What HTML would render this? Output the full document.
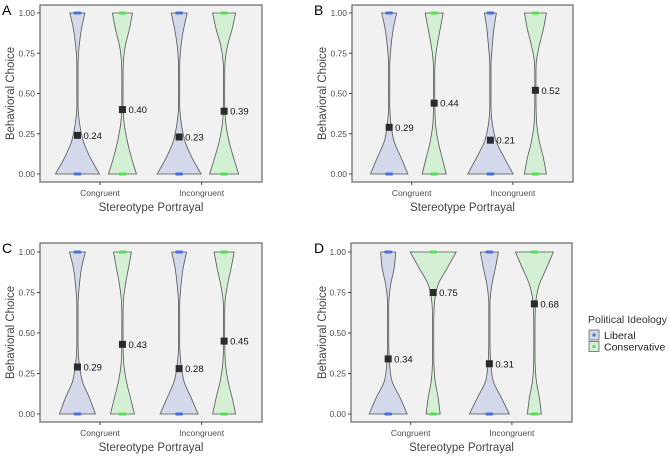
<!DOCTYPE html>
<html><head><meta charset="utf-8"><style>
body{margin:0;background:#fff;}
svg{display:block;font-family:"Liberation Sans",sans-serif;}
</style></head><body>
<svg id="chart" width="668" height="456" viewBox="0 0 668 456" xmlns="http://www.w3.org/2000/svg"></svg>
<script>
// ---- data ----
const categories = ["Congruent", "Incongruent"];
const groups = ["Liberal", "Conservative"];
const panelLetters = ["A", "B", "C", "D"];
const yTickValues = [0, 0.25, 0.5, 0.75, 1];
const yTickLabels = ["0.00", "0.25", "0.50", "0.75", "1.00"];
// means per panel: [lib-cong, cons-cong, lib-incong, cons-incong]
const meansA = [0.24, 0.40, 0.23, 0.39];
const meansB = [0.29, 0.44, 0.21, 0.52];
const meansC = [0.29, 0.43, 0.28, 0.45];
const meansD = [0.34, 0.75, 0.31, 0.68];
// density profiles at y = 0,0.1,...,1.0
const densA = [
  [22,13,6,2.5,0.7,0.6,0.6,0.7,1.8,4,7.5],
  [14,9,5,2,0.7,0.6,0.6,1,3,7,10],
  [22,13,6,2.5,0.7,0.6,0.6,0.7,2,4.5,8],
  [14.5,9.5,5,2,0.7,0.6,0.6,1,3.5,8,11.5]];
const densB = [
  [18.7,12,5,2,0.7,0.6,0.6,0.7,2,4,7.5],
  [12,8,4,1.5,0.7,0.6,0.6,1,3,6,9],
  [22.7,14,6,2.2,0.7,0.6,0.6,0.7,2,3.5,6],
  [11,8,4,1.5,0.7,0.6,0.6,1,4,8,11]];
const densC = [
  [18,12,5,2,0.7,0.6,0.6,0.7,2,4,8],
  [12,8,4,1.5,0.7,0.6,0.6,1,3,6,9],
  [19,12,5,2,0.7,0.6,0.6,0.7,2,4,7.5],
  [11.5,8,4,1.5,0.7,0.6,0.6,1,3.5,7,10]];
const densD = [
  [19,12,4,1.5,0.7,0.6,0.6,0.7,2.5,6,7.5],
  [7,5,2,0.8,0.6,0.6,0.7,1.5,5,14,23],
  [20,12,4,1.5,0.7,0.6,0.6,0.7,2.5,6,9],
  [7,5,2,0.8,0.6,0.6,0.7,1.5,5,12,19]];
const allMeans = [meansA, meansB, meansC, meansD];
const allDens = [densA, densB, densC, densD];

// ---- layout ----
const panels = [
  {x0:40,x1:262,y0:5,y1:182,yt:13,yb:174,lx:2,ly:15,tx:10},
  {x0:352,x1:573,y0:5,y1:182,yt:13,yb:174,lx:314,ly:15,tx:322},
  {x0:40,x1:262,y0:243,y1:422,yt:252,yb:414,lx:2,ly:253,tx:10},
  {x0:351,x1:572,y0:243,y1:422,yt:252,yb:414,lx:314,ly:253,tx:322}];
const catFrac = [0.27, 0.728];
const svg = document.getElementById('chart');
const NS = "http://www.w3.org/2000/svg";
function mk(tag, attrs, parent){const e=document.createElementNS(NS,tag);for(const k in attrs)e.setAttribute(k,attrs[k]);(parent||svg).appendChild(e);return e;}
const fills = ["#d3d8ea","#d4f0d4"];
const dots = ["#4b6fd8","#55e055"];

function spline(pts){
  let d="M"+pts[0][0]+","+pts[0][1];
  for(let i=0;i<pts.length-1;i++){
    const p0=pts[Math.max(i-1,0)],p1=pts[i],p2=pts[i+1],p3=pts[Math.min(i+2,pts.length-1)];
    const c1=[p1[0]+(p2[0]-p0[0])/6,p1[1]+(p2[1]-p0[1])/6];
    const c2=[p2[0]-(p3[0]-p1[0])/6,p2[1]-(p3[1]-p1[1])/6];
    d+=" C"+c1[0].toFixed(2)+","+c1[1].toFixed(2)+" "+c2[0].toFixed(2)+","+c2[1].toFixed(2)+" "+p2[0].toFixed(2)+","+p2[1].toFixed(2);
  }
  return d;
}

panels.forEach((P,pi)=>{
  const yS=v=>P.yb+(P.yt-P.yb)*v;
  const xS=ci=>P.x0+(P.x1-P.x0)*catFrac[ci];
  const g=mk('g',{});
  
  
  const bg=mk('rect',{x:P.x0,y:P.y0,width:P.x1-P.x0,height:P.y1-P.y0,fill:"#f0f1f0",stroke:"#666","stroke-width":1.2},g);
  
  
  const letter=mk('text',{x:P.lx,y:P.ly,"font-size":14,fill:"#000"},g);letter.textContent=panelLetters[pi];
  
  
  yTickValues.forEach((v,i)=>{
    const y=yS(v);
    mk('line',{x1:P.x0-3,x2:P.x0,y1:y,y2:y,stroke:"#444"},g);
    const t=mk('text',{x:P.x0-5,y:y+3,"font-size":8.5,fill:"#4d4d4d","text-anchor":"end"},g);t.textContent=yTickLabels[i];
    
    
  });
  const yt=mk('text',{x:P.tx+4,y:(P.y0+P.y1)/2,"font-size":11.5,fill:"#444","text-anchor":"middle",transform:`rotate(-90 ${P.tx+4} ${(P.y0+P.y1)/2})`},g);
  yt.textContent="Behavioral Choice";
  
  
  categories.forEach((c,ci)=>{
    const cx=xS(ci);
    mk('line',{x1:cx,x2:cx,y1:P.y1,y2:P.y1+3,stroke:"#444"},g);
    const t=mk('text',{x:cx,y:P.y1+14,"font-size":8.5,fill:"#4d4d4d","text-anchor":"middle"},g);t.textContent=c;
    
    
  });
  const xt=mk('text',{x:(P.x0+P.x1)/2,y:P.y1+29,"font-size":11.5,fill:"#444","text-anchor":"middle"},g);
  xt.textContent="Stereotype Portrayal";
  
  
  for(let k=0;k<4;k++){
    const ci=Math.floor(k/2), gi=k%2;
    const cx=xS(ci)+(gi===0?-22.5:22.5);
    const dens=allDens[pi][k];
    const right=dens.map((w,i)=>[cx+w,yS(i/10)]);
    const left=dens.map((w,i)=>[cx-w,yS(i/10)]).reverse();
    let d=spline(right)+" L"+left[0][0]+","+left[0][1]+spline(left).replace(/^M[^ C]+/,"")+" Z";
    const v=mk('path',{d:d,fill:fills[gi],stroke:"#555","stroke-width":0.8},g);
    
    
    [0,1].forEach(val=>{
      const r=mk('rect',{x:cx-4,y:yS(val)-1.5,width:8,height:3,rx:1.5,fill:dots[gi]},g);
      
      
    });
    const m=allMeans[pi][k];
    const sq=mk('rect',{x:cx-3.5,y:yS(m)-3.5,width:7,height:7,fill:"#2b2b2b"},g);
    
    
    const lab=mk('text',{x:cx+6,y:yS(m)+3.5,"font-size":9.5,fill:"#111"},g);lab.textContent=m.toFixed(2);
    
    
  }
});

// legend
const lg=mk('g',{});


const lt=mk('text',{x:588,y:323,"font-size":10.5,fill:"#333",textLength:79,lengthAdjust:"spacingAndGlyphs"},lg);lt.textContent="Political Ideology";


groups.forEach((gname,gi)=>{
  const y=330+gi*11.5;
  const e=mk('g',{},lg);
  
  
  mk('rect',{x:589,y:y,width:10,height:10,fill:fills[gi],stroke:"#666","stroke-width":0.8},e);
  mk('rect',{x:592.5,y:y+3.5,width:3,height:3,fill:dots[gi]},e);
  const t=mk('text',{x:604,y:y+9,"font-size":10.5,fill:"#222"},e);t.textContent=gname;
});
</script>
</body></html>
